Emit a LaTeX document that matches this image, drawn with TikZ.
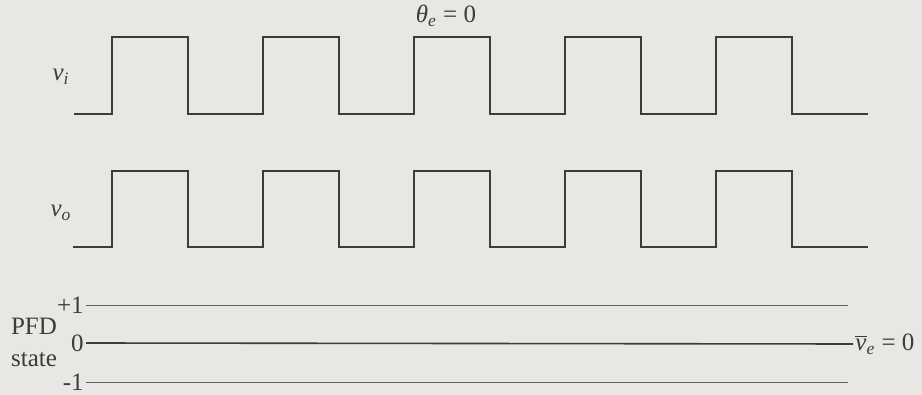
\documentclass[tikz,border=0pt]{standalone}
\usepackage{fontspec}
\setmainfont{Liberation Serif}
\usetikzlibrary{positioning}
\definecolor{papel}{RGB}{232,231,228}
\definecolor{tinta}{RGB}{60,60,60}

\begin{document}
\begin{tikzpicture}[x=0.5pt,y=-0.5pt,
		onda/.style={tinta, line width=0.9pt, line join=miter},
		nivel/.style={tinta!80, line width=0.45pt},
		etiqueta/.style={inner sep=1pt, text=tinta, font=\fontsize{12.5}{14}\selectfont}]
	
	% Fondo
	\fill[papel] (0,0) rectangle (922,395);
	\useasboundingbox (0,0) rectangle (922,395);
	
	% Senal de entrada v_i
	\draw[onda] (74,114) \foreach \k in {0,...,4} {
		-- ({112+151*\k},114) -- ({112+151*\k},37) -- ({188+151*\k},37) -- ({188+151*\k},114)
	} -- (868,114);
	
	% Senal de salida v_o
	\draw[onda] (73,247) \foreach \k in {0,...,4} {
		-- ({112+151*\k},247) -- ({112+151*\k},171) -- ({188+151*\k},171) -- ({188+151*\k},247)
	} -- (868,247);
	
	% Etiquetas de las senales
	\node[etiqueta] (vi) at (61,77) {\itshape v\textsubscript{i}};
	\node[etiqueta] (vo) at (61,213) {\itshape v\textsubscript{o}};
	\node[etiqueta] (thetae) at (446,16) {{\itshape θ\textsubscript{e}} = 0};
	
	% Estado del PFD
	\node[etiqueta] (pfd) at (34,326) {PFD};
	\node[etiqueta, below=6.5pt of pfd] (state) {state};
	\node[etiqueta, anchor=east] (mas1) at (86,305) {+1};
	\node[etiqueta, anchor=east] (cero) at (86,343) {0};
	\node[etiqueta, anchor=east] (menos1) at (86,382) {-1};
	\node[etiqueta, anchor=west] (vemedia) at (853,344) {$\overline{\mbox{\itshape v}}$\textsubscript{\itshape e} = 0};
	
	% Niveles
	\coordinate (fin1) at (848,305);
	\coordinate (fin2) at (848,382);
	\draw[nivel] (mas1.east) -- (mas1.east -| fin1);
	\draw[tinta, line width=0.8pt] (cero.east) -- (vemedia.west); % nivel cero
	\draw[nivel] (menos1.east) -- (menos1.east -| fin2);
	
\end{tikzpicture}
\end{document}
